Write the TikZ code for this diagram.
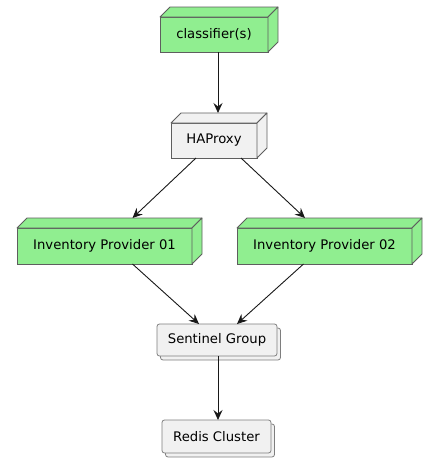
\documentclass[tikz,border=0pt]{standalone}
\usepackage{fontspec}
\setmainfont{DejaVu Sans}
\usepackage{tikz}
\usetikzlibrary{calc,arrows.meta,shadows}
\definecolor{leaf}{HTML}{90EE90}
\definecolor{pale}{HTML}{F1F1F1}
\definecolor{rim}{HTML}{5E5E5E}
\definecolor{ink}{HTML}{181818}
\tikzset{
	box/.style={rectangle,draw=rim,line width=0.8pt,outer sep=0pt,inner sep=0pt,minimum height=35,font=\fontsize{13.2}{16}\selectfont},
	face/.style={draw=rim,line width=0.8pt,line join=round},
	stack/.style={box,draw=rim!80,fill=pale,rounded corners=2.5pt,copy shadow={shadow xshift=3.5pt,shadow yshift=-4pt}},
	directed/.style={draw=ink,line width=0.9pt,arrows={-Stealth[length=10pt,width=9pt,inset=3.5pt]}}
}
% side and top of a 3d node
\newcommand\depthfaces[2]{
	\draw[face,fill=#2] (#1.north west) -- ++(10,-10) -- ($(#1.north east)+(10,-10)$) -- (#1.north east) -- cycle;
	\draw[face,fill=#2] (#1.north east) -- ($(#1.north east)+(10,-10)$) -- ($(#1.south east)+(10,-10)$) -- (#1.south east) -- cycle;
}
\begin{document}
\begin{tikzpicture}[x=1pt,y=-1pt]
		\useasboundingbox (0,0) rectangle (437,461);
		\node[box,fill=leaf,minimum width=108] (cls) at (214,34.5) {classifier(s)};
		\node[box,fill=pale,minimum width=86] (ha) at (214,140.5) {HAProxy};
		\node[box,fill=leaf,minimum width=175,minimum height=36] (ip1) at (104.5,246) {Inventory Provider 01};
		\node[box,fill=leaf,minimum width=175,minimum height=36] (ip2) at (324.5,246) {Inventory Provider 02};
		\node[stack,minimum width=120,minimum height=32] (sg) at (217,340) {Sentinel Group};
		\node[stack,minimum width=109,minimum height=33] (rc) at (216.5,436.5) {Redis Cluster};
		
		\depthfaces{cls}{leaf}
		\depthfaces{ha}{pale}
		\depthfaces{ip1}{leaf}
		\depthfaces{ip2}{leaf}
		
		\draw[directed] ($(cls.south)+(4,0)$) -- ($(ha.north)+(4,-10)$);
		\draw[directed] ($(ha.south)+(-18,0)$) -- ($(ip1.north)+(28,-10)$);
		\draw[directed] ($(ha.south)+(27,0)$) -- ($(ip2.north)+(-19.5,-10)$);
		\draw[directed] ($(ip1.south)+(28,0)$) -- ($(sg.north)+(-18,0)$);
		\draw[directed] ($(ip2.south)+(-21,0)$) -- ($(sg.north)+(20,0)$);
		\draw[directed] ($(sg.south)+(1,0)$) -- ($(rc.north)+(1.5,0)$);
		\end{tikzpicture}
\end{document}
